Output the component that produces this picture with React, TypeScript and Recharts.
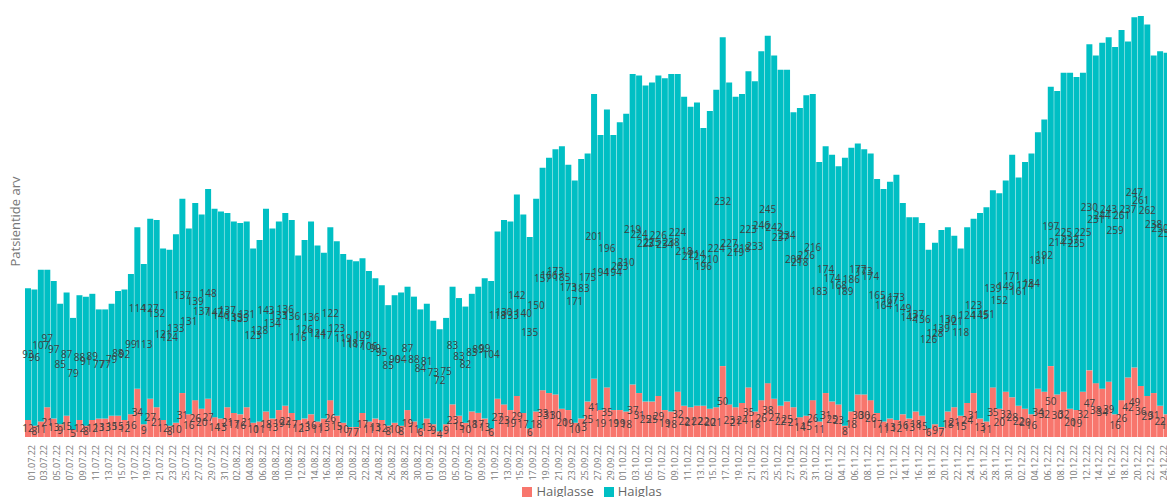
import React from 'react';
import { BarChart, Bar, XAxis, YAxis, Legend, LabelList } from 'recharts';

const dates = [
  '01.07.22', '02.07.22', '03.07.22', '04.07.22', '05.07.22', '06.07.22', '07.07.22', '08.07.22', '09.07.22', '10.07.22',
  '11.07.22', '12.07.22', '13.07.22', '14.07.22', '15.07.22', '16.07.22', '17.07.22', '18.07.22', '19.07.22', '20.07.22',
  '21.07.22', '22.07.22', '23.07.22', '24.07.22', '25.07.22', '26.07.22', '27.07.22', '28.07.22', '29.07.22', '30.07.22', '31.07.22',
  '01.08.22', '02.08.22', '03.08.22', '04.08.22', '05.08.22', '06.08.22', '07.08.22', '08.08.22', '09.08.22', '10.08.22',
  '11.08.22', '12.08.22', '13.08.22', '14.08.22', '15.08.22', '16.08.22', '17.08.22', '18.08.22', '19.08.22', '20.08.22',
  '21.08.22', '22.08.22', '23.08.22', '24.08.22', '25.08.22', '26.08.22', '27.08.22', '28.08.22', '29.08.22', '30.08.22', '31.08.22',
  '01.09.22', '02.09.22', '03.09.22', '04.09.22', '05.09.22', '06.09.22', '07.09.22', '08.09.22', '09.09.22', '10.09.22',
  '11.09.22', '12.09.22', '13.09.22', '14.09.22', '15.09.22', '16.09.22', '17.09.22', '18.09.22', '19.09.22', '20.09.22',
  '21.09.22', '22.09.22', '23.09.22', '24.09.22', '25.09.22', '26.09.22', '27.09.22', '28.09.22', '29.09.22', '30.09.22',
  '01.10.22', '02.10.22', '03.10.22', '04.10.22', '05.10.22', '06.10.22', '07.10.22', '08.10.22', '09.10.22', '10.10.22',
  '11.10.22', '12.10.22', '13.10.22', '14.10.22', '15.10.22', '16.10.22', '17.10.22', '18.10.22', '19.10.22', '20.10.22',
  '21.10.22', '22.10.22', '23.10.22', '24.10.22', '25.10.22', '26.10.22', '27.10.22', '28.10.22', '29.10.22', '30.10.22', '31.10.22',
  '01.11.22', '02.11.22', '03.11.22', '04.11.22', '05.11.22', '06.11.22', '07.11.22', '08.11.22', '09.11.22', '10.11.22',
  '11.11.22', '12.11.22', '13.11.22', '14.11.22', '15.11.22', '16.11.22', '17.11.22', '18.11.22', '19.11.22', '20.11.22',
  '21.11.22', '22.11.22', '23.11.22', '24.11.22', '25.11.22', '26.11.22', '27.11.22', '28.11.22', '29.11.22', '30.11.22',
  '01.12.22', '02.12.22', '03.12.22', '04.12.22', '05.12.22', '06.12.22', '07.12.22', '08.12.22', '09.12.22', '10.12.22',
  '11.12.22', '12.12.22', '13.12.22', '14.12.22', '15.12.22', '16.12.22', '17.12.22', '18.12.22', '19.12.22', '20.12.22',
  '21.12.22', '22.12.22', '23.12.22', '24.12.22', '25.12.22',
];

// patients in hospital because of covid (red, bottom)
const haiglasse = [
  12, 8, 11, 21, 13, 9, 15, 5, 12, 8, 12, 13, 13, 15, 15, 12, 16, 34, 9, 27, 21, 12, 8, 10, 31, 16, 26, 20, 27, 14, 13,
  21, 17, 16, 21, 10, 11, 18, 13, 19, 22, 17, 12, 13, 16, 11, 13, 26, 15, 10, 7, 7, 17, 11, 13, 12, 8, 10, 8, 19, 11, 6,
  13, 9, 4, 9, 23, 15, 10, 18, 17, 13, 6, 27, 23, 19, 29, 17, 6, 18, 33, 31, 30, 20, 19, 10, 13, 25, 41, 19, 35, 19,
  19, 18, 37, 31, 25, 25, 29, 19, 18, 32, 22, 21, 22, 22, 20, 21, 50, 23, 21, 24, 35, 18, 26, 38, 27, 22, 25, 21, 14, 15, 26,
  11, 31, 25, 23, 8, 18, 30, 30, 26, 17, 11, 13, 12, 16, 13, 18, 15, 6, 9, 7, 18, 21, 15, 24, 31, 13, 11, 35, 20, 32,
  28, 22, 20, 16, 34, 32, 50, 30, 32, 20, 19, 32, 47, 38, 34, 39, 16, 26, 42, 49, 36, 29, 31, 22, 16,
];

// patients in hospital (teal, top)
const haiglas = [
  93, 96, 107, 97, 97, 85, 87, 79, 88, 91, 89, 77, 77, 79, 88, 92, 99, 114, 113, 127, 132, 121, 124, 133, 137, 131, 139, 137, 148, 147, 146,
  137, 135, 135, 131, 123, 128, 143, 134, 133, 136, 136, 116, 126, 136, 124, 117, 122, 123, 119, 118, 117, 109, 106, 99, 95, 85, 90, 94, 87, 88, 84,
  81, 73, 72, 75, 83, 83, 82, 83, 89, 99, 104, 118, 130, 133, 142, 140, 135, 150, 157, 166, 173, 185, 173, 171, 183, 175, 201, 194, 196, 194,
  203, 210, 219, 224, 223, 225, 226, 234, 238, 224, 218, 212, 214, 196, 210, 224, 232, 227, 219, 218, 223, 233, 246, 245, 242, 237, 234, 208, 218, 226, 216,
  183, 174, 174, 168, 189, 186, 177, 173, 174, 165, 164, 167, 173, 149, 142, 137, 136, 126, 128, 139, 130, 121, 118, 124, 123, 145, 151, 139, 152, 149,
  171, 161, 174, 184, 181, 192, 197, 214, 225, 237, 235, 225, 230, 231, 244, 243, 259, 261, 237, 247, 261, 262, 238, 250, 255,
];

const data = dates.map((date, i) => ({
  date,
  haiglasse: haiglasse[i],
  haiglas: haiglas[i],
}));

const RED = '#F8766D';
const TEAL = '#00BFC4';
const legendOrder = ['Haiglasse', 'Haiglas'];

export default function App() {
  return (
    <div
      style={{
        position: 'absolute',
        left: 0,
        top: 0,
        width: 1167,
        height: 497,
        overflow: 'hidden',
        background: '#fff',
        fontFamily: '"Open Sans", "Noto Sans", sans-serif',
      }}
    >
      <BarChart
        width={1175}
        height={503}
        data={data}
        margin={{ top: 6, right: 5, left: 0, bottom: 2 }}
        barCategoryGap={0}
        barGap={0}
      >
        <XAxis
          dataKey="date"
          interval={1}
          height={42}
          tickLine={false}
          axisLine={false}
          angle={-90}
          tick={{ fontSize: 9, fill: '#777', textAnchor: 'end', verticalAnchor: 'middle' } as any}
        />
        <YAxis
          width={25}
          domain={[0, 304]}
          tick={false}
          tickLine={false}
          axisLine={false}
          label={{ value: 'Patsientide arv', angle: -90, position: 'center', fill: '#777', fontSize: 13, dx: 3 }}
        />
        <Legend
          verticalAlign="bottom"
          align="center"
          iconType="square"
          iconSize={10}
          wrapperStyle={{ paddingLeft: 12 }}
          itemSorter={(item: any) => legendOrder.indexOf(item.value)}
          formatter={(value) => <span style={{ color: '#666', fontSize: 13 }}>{value}</span>}
        />
        <Bar dataKey="haiglasse" name="Haiglasse" stackId="a" fill={RED} isAnimationActive={false}>
          <LabelList dataKey="haiglasse" position="center" fill="#404040" fontSize={10} />
        </Bar>
        <Bar dataKey="haiglas" name="Haiglas" stackId="a" fill={TEAL} isAnimationActive={false}>
          <LabelList dataKey="haiglas" position="center" fill="#404040" fontSize={10} />
        </Bar>
      </BarChart>
    </div>
  );
}
